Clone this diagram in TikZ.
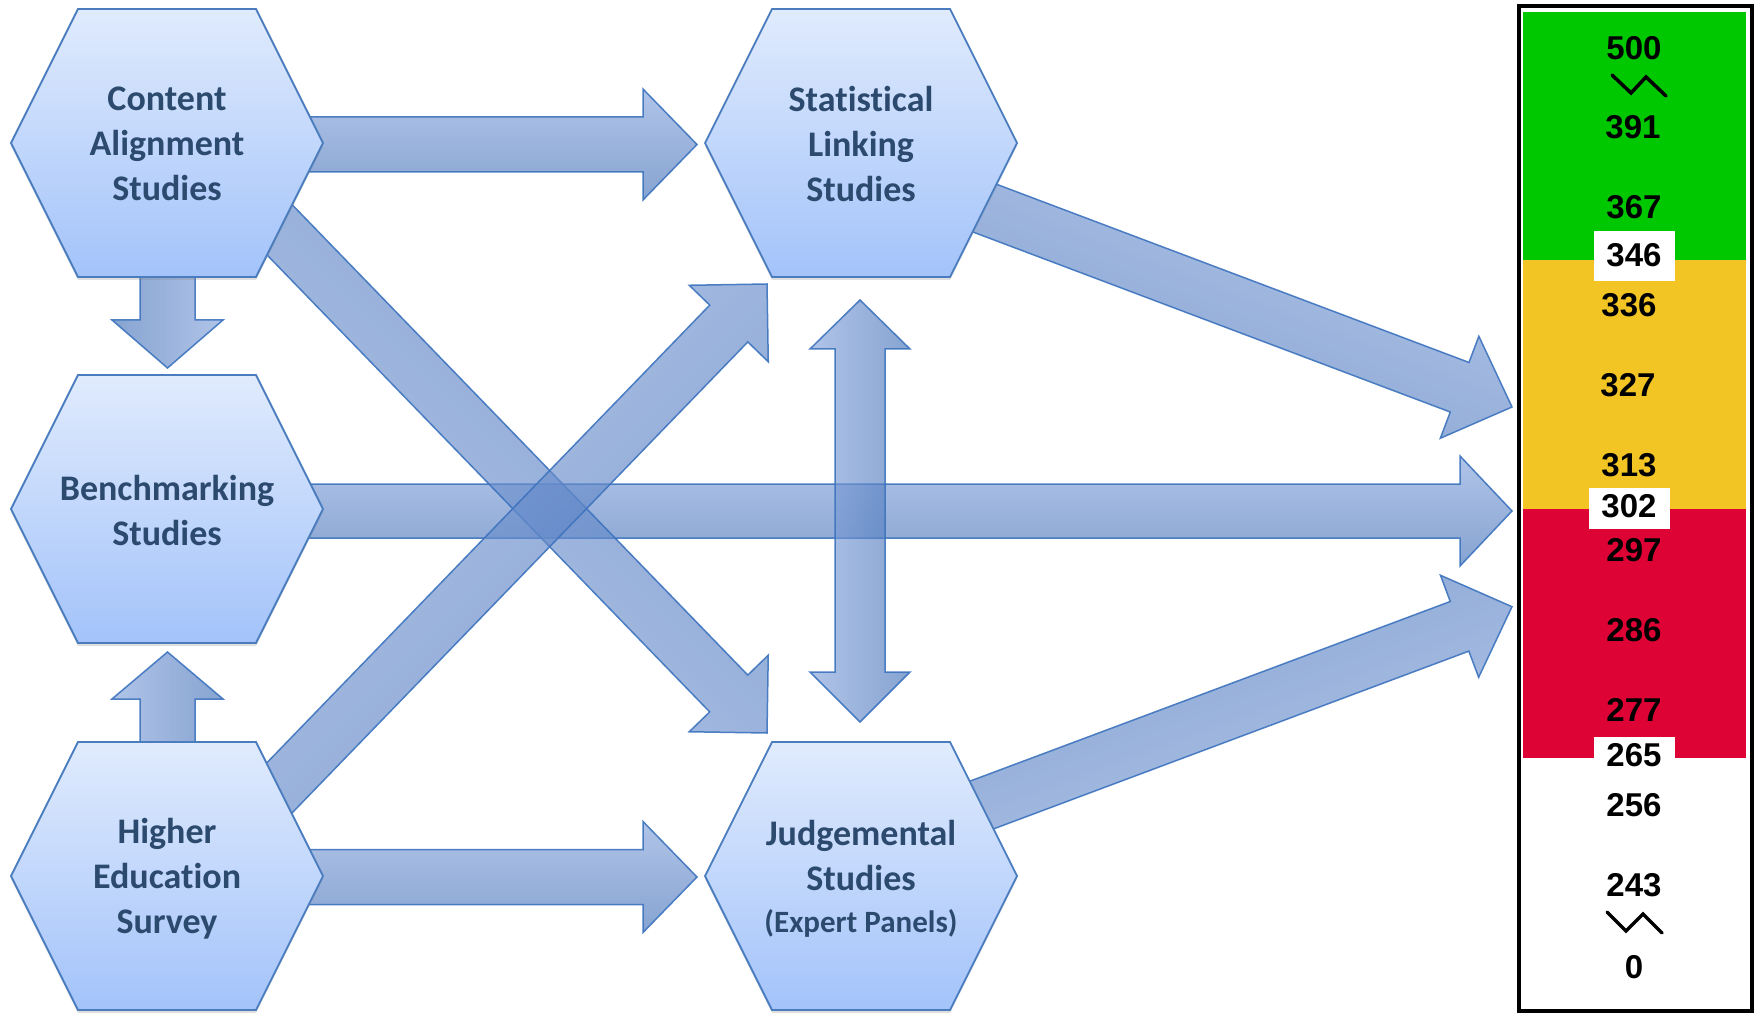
\documentclass[tikz,border=0pt]{standalone}
\usepackage{fontspec}
\setmainfont{Carlito}[Ligatures=NoCommon]
\newfontfamily\numfont{Liberation Sans}
\usetikzlibrary{calc,shadows}
\definecolor{hextext}{RGB}{44,74,110}
\definecolor{hextop}{RGB}{224,235,253}
\definecolor{hexbot}{RGB}{163,195,250}
\definecolor{hexline}{RGB}{75,125,190}
\definecolor{arrowlight}{RGB}{135,165,220}
\definecolor{arrowdark}{RGB}{70,115,185}
\definecolor{arrowline}{RGB}{60,115,190}
\definecolor{bandgreen}{RGB}{0,200,0}
\definecolor{bandyellow}{RGB}{242,196,36}
\definecolor{bandred}{RGB}{221,3,52}
\pgfdeclarelayer{paperlayer}
\pgfdeclarelayer{arrowlayer}
\pgfdeclarelayer{hexlayer}
\pgfsetlayers{paperlayer,arrowlayer,hexlayer,main}
\newcommand\blockarrow[6][]{%
  \coordinate (bab) at ($(#3)!#6!(#2)$);
  \draw[barrow,#1] ($(#2)!#4!90:(#3)$) -- ($(bab)!#4!90:(#3)$) -- ($(bab)!#5!90:(#3)$) -- (#3)
    -- ($(bab)!#5!-90:(#3)$) -- ($(bab)!#4!-90:(#3)$) -- ($(#2)!#4!-90:(#3)$) -- cycle;}
\newcommand\hexat[1]{%
  \path[hexshape] ($(#1)+(-156,0)$) -- ($(#1)+(-89,-134)$) -- ($(#1)+(89,-134)$)
    -- ($(#1)+(156,0)$) -- ($(#1)+(89,134)$) -- ($(#1)+(-89,134)$) -- cycle;}
\tikzset{
  barrow/.style={draw=arrowline, line width=1.5pt, top color=arrowlight, bottom color=arrowdark,
    fill opacity=0.65, draw opacity=0.9, line join=miter},
  hexshape/.style={draw=hexline, line width=1.8pt, top color=hextop, bottom color=hexbot,
    drop shadow={opacity=0.25, shadow xshift=0pt, shadow yshift=-3pt}},
  hexlabel/.style={text=hextext, font=\fontsize{36}{45}\selectfont\bfseries, align=center, inner sep=0pt},
  scalelbl/.style={font=\numfont\fontsize{33}{36}\selectfont\bfseries, inner sep=0pt},
  zig/.style={line width=3.5pt, line cap=round, line join=miter},
}
\begin{document}
\begin{tikzpicture}[x=1pt,y=-1pt]
\useasboundingbox (0,0) rectangle (1754,1016);
\begin{pgfonlayer}{paperlayer}
\fill[white] (0,0) rectangle (1754,1016);
\end{pgfonlayer}

% hexagon nodes
\coordinate (hca) at (167,143);
\coordinate (hsl) at (861,143);
\coordinate (hbm) at (167,509);
\coordinate (hhe) at (167,876);
\coordinate (hjs) at (861,876);
\node[hexlabel] (ca) at (167,144) {Content\\Alignment\\Studies};
\node[hexlabel] (sl) at (861,144) {Statistical\\Linking\\Studies};
\node[hexlabel] (bm) at (167,510) {Benchmarking\\Studies};
\node[hexlabel] (he) at (167,879) {Higher\\Education\\Survey};
\node[hexlabel] (js) at (861,879) {Judgemental\\Studies\\[-3pt]{\fontsize{31}{40}\selectfont(Expert Panels)}};
\begin{pgfonlayer}{hexlayer}
  \hexat{hca}\hexat{hsl}\hexat{hbm}\hexat{hhe}\hexat{hjs}
\end{pgfonlayer}

% arrow end points
\coordinate (a1s) at (300,144.5);  \coordinate (a1e) at (697,144.5);
\coordinate (a2s) at (300,877);    \coordinate (a2e) at (697,877);
\coordinate (a3s) at (300,511);    \coordinate (a3e) at (1512,511);
\coordinate (a4s) at (167.5,270);  \coordinate (a4e) at (167.5,368);
\coordinate (a5s) at (167.5,750);  \coordinate (a5e) at (167.5,652);
\coordinate (a6s) at (242,191);    \coordinate (a6e) at (767,733);
\coordinate (a7s) at (241.6,827);  \coordinate (a7e) at (767,284);
\coordinate (a8s) at (934,189);    \coordinate (a8e) at (1512,407);
\coordinate (a9s) at (931,824);    \coordinate (a9e) at (1512,606.7);
\coordinate (dtop) at (860,300);   \coordinate (dbot) at (860,722);

\begin{pgfonlayer}{arrowlayer}
  \blockarrow{a1s}{a1e}{27.5pt}{55.5pt}{54pt}
  \blockarrow{a2s}{a2e}{27.5pt}{55.5pt}{54pt}
  \blockarrow{a3s}{a3e}{27pt}{55pt}{52pt}
  \blockarrow[shading angle=-90]{a4s}{a4e}{27.5pt}{55.5pt}{48pt}
  \blockarrow[shading angle=90]{a5s}{a5e}{27.5pt}{55.5pt}{47pt}
  \blockarrow[shading angle=135]{a6s}{a6e}{26.5pt}{55pt}{55pt}
  \blockarrow[shading angle=45]{a7s}{a7e}{26.5pt}{55pt}{55pt}
  \blockarrow[shading angle=-21]{a8s}{a8e}{26.5pt}{54.5pt}{56pt}
  \blockarrow[shading angle=200]{a9s}{a9e}{26.5pt}{54.5pt}{56pt}
  \draw[barrow, shading angle=90] (dtop) -- ($(dtop)+(50,49)$) -- ($(dtop)+(25,49)$)
    -- ($(dbot)+(25,-50)$) -- ($(dbot)+(50,-50)$) -- (dbot) -- ($(dbot)+(-50,-50)$)
    -- ($(dbot)+(-25,-50)$) -- ($(dtop)+(-25,49)$) -- ($(dtop)+(-50,49)$) -- cycle;
\end{pgfonlayer}

% score scale
\fill[bandgreen]  (1523,12) rectangle (1746,260);
\fill[bandyellow] (1523,260) rectangle (1746,509);
\fill[bandred]    (1523,509) rectangle (1746,758);
\draw[line width=4pt] (1518.5,6.5) rectangle (1751.5,1011);
\fill[white] (1594,231) rectangle (1675,281);
\fill[white] (1589,488) rectangle (1670,529);
\fill[white] (1594,737) rectangle (1675,780);
\node[scalelbl] (s500) at (1634,48) {500};
\node[scalelbl] (s391) at (1633,127) {391};
\node[scalelbl] (s367) at (1634,207) {367};
\node[scalelbl] (s346) at (1634,255) {346};
\node[scalelbl] (s336) at (1629,305) {336};
\node[scalelbl] (s327) at (1628,385) {327};
\node[scalelbl] (s313) at (1629,465) {313};
\node[scalelbl] (s302) at (1629,506) {302};
\node[scalelbl] (s297) at (1634,550) {297};
\node[scalelbl] (s286) at (1634,630) {286};
\node[scalelbl] (s277) at (1634,710) {277};
\node[scalelbl] (s265) at (1634,755) {265};
\node[scalelbl] (s256) at (1634,805) {256};
\node[scalelbl] (s243) at (1634,885) {243};
\node[scalelbl] (s0)   at (1634,967) {0};
\draw[zig] (1612,75) -- (1631,93) -- (1646,77) -- (1666,96);
\draw[zig] (1607,912) -- (1626,931) -- (1643,914) -- (1662,933);
\end{tikzpicture}
\end{document}
